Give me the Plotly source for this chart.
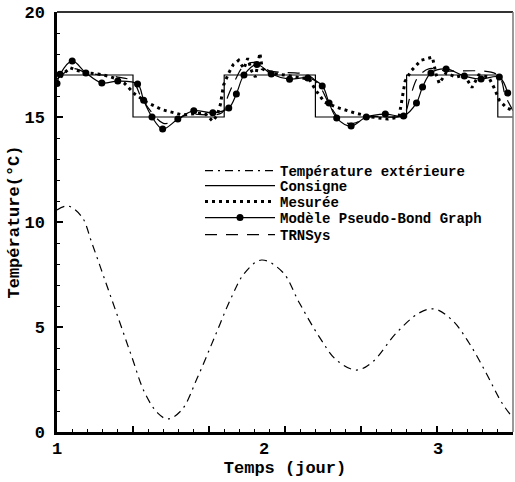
import plotly.graph_objects as go

# Time in hours from start (x axis labelled in days)
ext_t = [0, 1.44, 3.28, 4.59, 6.30, 8.01, 9.85, 11.55, 13.26, 14.57, 16.41, 18.51, 20.74, 22.97,
         24.68, 26.91, 29.67, 31.90, 34.53, 36.76, 39.39, 41.49, 44.64, 47.66, 49.63, 51.99,
         54.22, 56.46, 58.55, 60]
ext_v = [10.57, 10.76, 10.24, 9.0, 7.24, 5.48, 3.57, 1.86, 0.9, 0.62, 1.05, 2.62, 4.52, 6.43,
         7.57, 8.19, 7.62, 6.14, 4.52, 3.43, 2.95, 3.33, 4.71, 5.67, 5.86, 5.33,
         4.24, 2.81, 1.38, 0.67]

cons_t = [0, 10, 22, 34, 46, 58, 60]
cons_v = [17, 15, 17, 15, 17, 15, 15]

mes_t = [0, 0.7, 1.7, 2.8, 4.1, 5.4, 6.7, 8.0, 8.9, 10.2, 11.8, 13.8, 16.5, 18.1, 19.4, 20.5,
         21.1, 21.5, 21.9, 22.6, 23.2, 23.9, 24.6, 25.1, 25.6, 26.1, 26.7, 27.0, 28.0, 29.9,
         31.9, 33.2, 34.0, 35.2, 36.9, 39.1, 41.4, 43.5, 45.0, 45.4, 45.8, 46.6, 47.9, 49.4,
         49.9, 50.3, 51.2, 52.5, 53.6, 54.6, 55.5, 56.8, 57.5, 58.2, 59.1, 60]
mes_v = [16.6, 17.0, 17.35, 17.2, 17.1, 17.05, 16.95, 16.8, 16.6, 16.1, 15.7, 15.35, 15.1, 15.15,
         15.2, 14.8, 15.1, 15.6, 16.5, 17.1, 17.5, 17.7, 17.3, 17.8, 17.2, 16.9, 18.05, 17.3,
         17.1, 17.0, 16.9, 16.8, 16.3, 15.7, 15.45, 15.2, 15.0, 14.9, 15.0, 15.8, 16.7, 17.2,
         17.7, 17.85, 17.0, 16.6, 17.1, 16.9, 17.0, 16.4, 17.0, 16.9, 16.4, 15.8, 15.45, 15.3]

mod_t = [0, 0.4, 2.0, 3.8, 5.9, 8.0, 10.6, 11.4, 12.5, 13.9, 15.9, 18.0, 20.5, 22.6, 23.6, 24.6,
         26.3, 28.2, 30.6, 33.0, 34.9, 35.8, 36.8, 38.7, 40.7, 43.2, 45.6, 47.3, 48.1, 49.2,
         51.2, 53.6, 55.8, 58.2, 59.3]
mod_v = [16.6, 17.03, 17.67, 17.1, 16.62, 16.71, 16.57, 15.8, 15.0, 14.43, 14.9, 15.3, 15.2,
         15.43, 16.1, 17.0, 17.5, 17.05, 16.8, 16.86, 16.48, 15.67, 14.95, 14.57, 15.0, 15.14,
         15.05, 15.67, 16.43, 17.1, 17.29, 16.95, 16.81, 16.9, 16.14]

trn_t = [0, 2, 4, 8, 10, 11, 12.5, 14, 15.5, 17, 21.7, 22.5, 23.5, 24.5, 26, 28, 33, 34.5, 36,
         37.5, 39, 41, 45.5, 46.5, 47.5, 49, 51, 58, 59, 60]
trn_v = [16.8, 17.3, 17.1, 16.9, 16.7, 16.0, 15.2, 14.7, 14.8, 15.1, 15.2, 16.0, 16.8, 17.4,
         17.6, 17.2, 17.0, 16.5, 15.5, 14.8, 14.7, 15.0, 15.1, 16.0, 16.9, 17.3, 17.2, 17.0,
         16.0, 15.3]

day_pos = [0, 27.2, 50.1]
day_lab = ["1", "2", "3"]

FONT = "Liberation Mono"
LEG_FONT = dict(family=FONT, size=14, color="black", weight="bold")

fig = go.Figure()
fig.add_trace(go.Scatter(x=ext_t, y=ext_v, mode="lines", name="Température extérieure",
                         legend="legend",
                         line=dict(color="black", width=1.2, dash="8px,5px,2px,5px", shape="spline")))
fig.add_trace(go.Scatter(x=cons_t, y=cons_v, mode="lines", name="Consigne", legend="legend2",
                         line=dict(color="black", width=1.2, shape="hv")))
fig.add_trace(go.Scatter(x=mes_t, y=mes_v, mode="lines", name="Mesurée", legend="legend3",
                         line=dict(color="black", width=3, dash="3px,4px")))
fig.add_trace(go.Scatter(x=mod_t, y=mod_v, mode="lines+markers", name="Modèle Pseudo-Bond Graph",
                         legend="legend4",
                         line=dict(color="black", width=1.2, shape="spline"),
                         marker=dict(color="black", size=7)))
fig.add_trace(go.Scatter(x=trn_t, y=trn_v, mode="lines", name="TRNSys", legend="legend5",
                         line=dict(color="black", width=1.2, dash="12px,9px", shape="spline")))

for p, lab in zip(day_pos, day_lab):
    fig.add_annotation(x=p, y=0, xref="x", yref="paper", text=lab, showarrow=False,
                       yanchor="middle", yshift=-17,
                       font=dict(family=FONT, size=17, color="black", weight="bold"))

fig.add_shape(type="line", xref="paper", yref="paper", x0=0, x1=1, y0=1, y1=1,
              line=dict(color="#333", width=2))
fig.add_shape(type="line", xref="paper", yref="paper", x0=1, x1=1, y0=0, y1=1,
              line=dict(color="#777", width=1.5))


def leg(ypx):
    return dict(x=(200 - 57) / 456, y=(432 - ypx) / 420, xanchor="left", yanchor="middle",
                bgcolor="rgba(0,0,0,0)", font=LEG_FONT, itemwidth=70, borderwidth=0)


fig.update_layout(
    width=515, height=482,
    margin=dict(l=57, r=2, t=12, b=50),
    plot_bgcolor="white", paper_bgcolor="white",
    font=dict(family=FONT, size=17, color="black", weight="bold"),
    showlegend=True,
    legend=leg(171), legend2=leg(186), legend3=leg(202), legend4=leg(218), legend5=leg(235),
    xaxis=dict(range=[0, 60], showgrid=False, zeroline=False, showline=True, linecolor="black",
               linewidth=2.5, ticks="inside", ticklen=6, tickwidth=2, tickcolor="black",
               tickvals=[0, 10, 20, 30, 40, 50, 60], showticklabels=False,
               minor=dict(dtick=2, ticks="inside", ticklen=3, tickwidth=1, tickcolor="black"),
               title=dict(text="Temps (jour)", standoff=28,
                          font=dict(family=FONT, size=17, weight="bold"))),
    yaxis=dict(range=[0, 20], showgrid=False, zeroline=False, showline=True, linecolor="black",
               linewidth=2.5, ticks="inside", ticklen=6, tickwidth=2, tickcolor="black",
               tickvals=[0, 5, 10, 15, 20], ticklabelstandoff=6,
               tickfont=dict(family=FONT, size=17, weight="bold"),
               minor=dict(dtick=1, ticks="inside", ticklen=3, tickwidth=1, tickcolor="black"),
               title=dict(text="Température(°C)", standoff=1,
                          font=dict(family=FONT, size=17, weight="bold"))),
)

fig.write_html("out.html")
